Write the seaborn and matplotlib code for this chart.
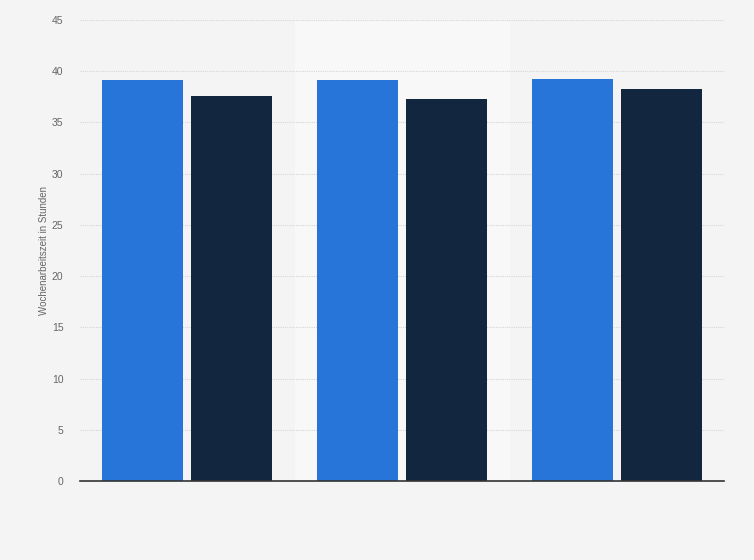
import matplotlib
matplotlib.use("Agg")
import matplotlib.pyplot as plt
import pandas as pd
import seaborn as sns

# Data (x labels are not shown in the picture)
categories = ["Kategorie 1", "Kategorie 2", "Kategorie 3"]
series_a = [39.1, 39.1, 39.2]
series_b = [37.6, 37.3, 38.3]
series_names = ["Reihe A", "Reihe B"]
y_ticks = [0, 5, 10, 15, 20, 25, 30, 35, 40, 45]

df = pd.DataFrame({
    "kategorie": categories * 2,
    "reihe": [series_names[0]] * 3 + [series_names[1]] * 3,
    "wert": series_a + series_b,
})

sns.set_theme(style="white")
plt.rcParams["font.family"] = ["Liberation Sans", "DejaVu Sans"]

bg = "#f4f4f4"
fig = plt.figure(figsize=(7.54, 5.6), dpi=100, facecolor=bg)
ax = fig.add_axes([80 / 754, 1 - 481 / 560, 644 / 754, 461 / 560])
ax.set_facecolor(bg)

# lighter band behind the middle category (hover highlight)
ax.axvspan(0.5, 1.5, color="#f8f8f8", zorder=0)

sns.barplot(data=df, x="kategorie", y="wert", hue="reihe",
            palette=["#2775d9", "#12273f"], width=0.828, gap=0.09,
            saturation=1, legend=False, ax=ax, zorder=3,
            edgecolor="none")

ax.set_xlim(-0.5, 2.5)
ax.set_ylim(0, 45)
ax.set_yticks(y_ticks)
ax.set_yticklabels([str(t) for t in y_ticks], color="#666666", fontsize=7.5)
ax.tick_params(axis="y", length=0, pad=12)
ax.set_xticks([])
ax.set_xlabel("")
ax.set_ylabel("Wochenarbeitszeit in Stunden", color="#666666", fontsize=7, labelpad=2)

ax.grid(axis="y", linestyle=(0, (1, 1)), color="#d6d6d6", linewidth=0.8, zorder=1)
ax.set_axisbelow(True)
for side in ["top", "right", "left"]:
    ax.spines[side].set_visible(False)
ax.spines["bottom"].set_color("#333333")
ax.spines["bottom"].set_linewidth(1.2)
ax.spines["bottom"].set_zorder(5)

fig.savefig("out.png", dpi=100, facecolor=bg)
